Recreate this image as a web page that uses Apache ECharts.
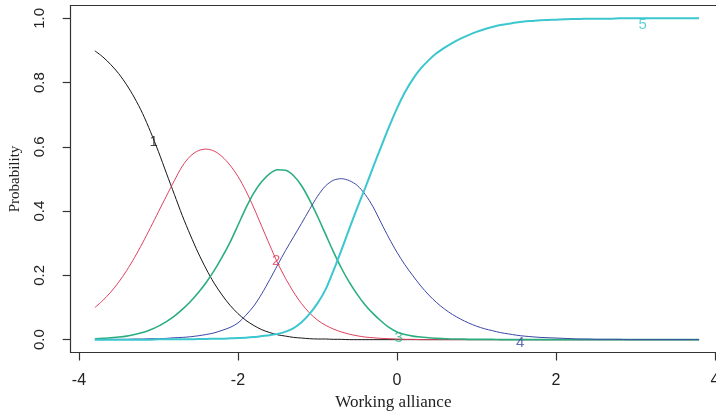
<!DOCTYPE html>
<html>
<head>
<meta charset="utf-8">
<script src="https://cdn.jsdelivr.net/npm/echarts@6/dist/echarts.min.js"></script>
<style>html,body{margin:0;padding:0;background:#fff;}#c{width:716px;height:411px;}</style>
</head>
<body>
<div id="c"></div>
<script>
// Working alliance (theta) grid
const theta = [
 -3.8,-3.7,-3.6,-3.5,-3.4,-3.3,-3.2,-3.1,-3.0,-2.9,
 -2.8,-2.7,-2.6,-2.5,-2.4,-2.3,-2.2,-2.1,-2.0,-1.9,
 -1.8,-1.7,-1.6,-1.5,-1.4,-1.3,-1.2,-1.1,-1.0,-0.9,
 -0.8,-0.7,-0.6,-0.5,-0.4,-0.3,-0.2,-0.1,0,0.1,
 0.2,0.3,0.4,0.5,0.6,0.7,0.8,0.9,1.0,1.1,
 1.2,1.3,1.4,1.5,1.6,1.7,1.8,1.9,2.0,2.1,
 2.2,2.3,2.4,2.5,2.6,2.7,2.8,2.9,3.0,3.1,
 3.2,3.3,3.4,3.5,3.6,3.7,3.8];
// Category probability curves
const cat1 = [
 .899,.880,.856,.828,.793,.752,.704,.647,.585,.518,
 .452,.386,.326,.270,.220,.176,.139,.107,.081,.060,
 .044,.031,.022,.015,.011,.007,.005,.003,.002,.002,
 .001,.001,0,0,0,0,0,0,0,0,
 0,0,0,0,0,0,0,0,0,0,
 0,0,0,0,0,0,0,0,0,0,
 0,0,0,0,0,0,0,0,0,0,
 0,0,0,0,0,0,0];
const cat2 = [
 .100,.122,.148,.179,.215,.256,.301,.349,.398,.447,
 .495,.540,.571,.588,.593,.587,.570,.543,.508,.463,
 .410,.352,.294,.238,.190,.148,.112,.083,.061,.045,
 .033,.024,.017,.012,.008,.006,.004,.003,.002,.001,
 .001,0,0,0,0,0,0,0,0,0,
 0,0,0,0,0,0,0,0,0,0,
 0,0,0,0,0,0,0,0,0,0,
 0,0,0,0,0,0,0];
const cat3 = [
 .003,.004,.006,.008,.011,.016,.022,.031,.042,.056,
 .073,.094,.118,.146,.178,.215,.257,.303,.356,.410,
 .457,.492,.517,.529,.527,.510,.479,.435,.384,.329,
 .274,.223,.179,.141,.108,.081,.058,.038,.024,.016,
 .011,.008,.006,.004,.003,.002,.002,.001,.001,.001,
 .001,0,0,0,0,0,0,0,0,0,
 0,0,0,0,0,0,0,0,0,0,
 0,0,0,0,0,0,0];
const cat4 = [
 0,0,.001,.001,.001,.002,.002,.003,.003,.004,
 .006,.007,.009,.012,.016,.021,.029,.038,.052,.076,
 .105,.143,.187,.233,.278,.320,.362,.405,.446,.478,
 .496,.501,.495,.480,.452,.413,.364,.316,.272,.233,
 .199,.167,.139,.115,.095,.078,.064,.052,.042,.034,
 .028,.022,.018,.014,.011,.009,.007,.006,.005,.004,
 .003,.002,.002,.001,.001,.001,.001,0,0,0,
 0,0,0,0,0,0,0];
const cat5 = [
 0,0,0,0,0,0,0,0,.001,.001,
 .001,.001,.001,.002,.002,.003,.003,.004,.005,.006,
 .008,.011,.014,.018,.025,.036,.054,.080,.113,.155,
 .214,.278,.345,.410,.472,.537,.600,.662,.720,.770,
 .811,.844,.870,.892,.909,.924,.937,.948,.958,.966,
 .973,.979,.983,.987,.990,.992,.994,.995,.996,.997,
 .998,.998,.999,.999,.999,.999,1,1,1,1,
 1,1,1,1,1,1,1];
// Curve labels
const labelText = ['1','2','3','4','5'];
const labelX = [-3.06,-1.52,0.02,1.55,3.09];
const labelY = [0.617,0.244,0.006,-0.009,0.979];
// Tick labels
const xTicks = [-4,-2,0,2,4];
const yTicks = [0,0.2,0.4,0.6,0.8,1.0];

const colors = ['#151515','#E0405E','#2BAE7E','#3B48A6','#3CC6CF'];
const widths = [1,1,1.6,1,2];
const cats = [cat1,cat2,cat3,cat4,cat5];

const series = cats.map((c,i)=>({
  type:'line',
  data: theta.map((t,j)=>[t,c[j]]),
  showSymbol:false,
  smooth:0.3,
  lineStyle:{color:colors[i],width:widths[i]},
  itemStyle:{color:colors[i]},
  z:2+i,
  silent:true
}));
series.push({
  type:'scatter',
  data: labelText.map((s,i)=>({value:[labelX[i],labelY[i]], label:{color:colors[i]}})),
  symbolSize:0,
  z:20,
  label:{show:true,position:'inside',formatter:(p)=>labelText[p.dataIndex],fontFamily:'Liberation Sans, Arial, sans-serif',fontSize:15},
  silent:true
});

const axisColor = '#333';
const chart = echarts.init(document.getElementById('c'),null,{renderer:'canvas'});
chart.setOption({
  animation:false,
  backgroundColor:'#fff',
  grid:{left:70.7,right:0,top:5.5,bottom:58.5,show:false,containLabel:false,outerBoundsMode:'none'},
  xAxis:[{
    type:'value',min:-4.104,max:4.013,position:'bottom',
    name:'Working alliance',nameLocation:'middle',nameGap:42,
    nameTextStyle:{fontFamily:'Liberation Serif, Times New Roman, serif',fontSize:17,color:'#222'},
    axisLine:{show:true,onZero:false,lineStyle:{color:axisColor,width:1.2}},
    axisTick:{show:true,length:8,inside:false,customValues:xTicks,lineStyle:{color:axisColor,width:1.2}},
    axisLabel:{customValues:xTicks,margin:20,hideOverlap:false,fontFamily:'Liberation Sans, Arial, sans-serif',fontSize:16,color:'#222',formatter:(v)=>String(v)},
    splitLine:{show:false}
  },{
    type:'value',min:-4.104,max:4.013,position:'top',
    axisLine:{show:true,onZero:false,lineStyle:{color:axisColor,width:1.2}},
    axisTick:{show:false},axisLabel:{show:false},splitLine:{show:false}
  }],
  yAxis:{
    type:'value',min:-0.04,max:1.04,position:'left',
    name:'Probability',nameLocation:'middle',nameGap:48,nameRotate:90,
    nameTextStyle:{fontFamily:'Liberation Serif, Times New Roman, serif',fontSize:15,color:'#222'},
    axisLine:{show:true,onZero:false,lineStyle:{color:axisColor,width:1.2}},
    axisTick:{show:true,length:8,inside:false,customValues:yTicks,lineStyle:{color:axisColor,width:1.2}},
    axisLabel:{customValues:yTicks,rotate:90,margin:23,fontFamily:'Liberation Sans, Arial, sans-serif',fontSize:15,color:'#222',formatter:(v)=>v.toFixed(1)},
    splitLine:{show:false}
  },
  series:series
});
</script>
</body>
</html>
